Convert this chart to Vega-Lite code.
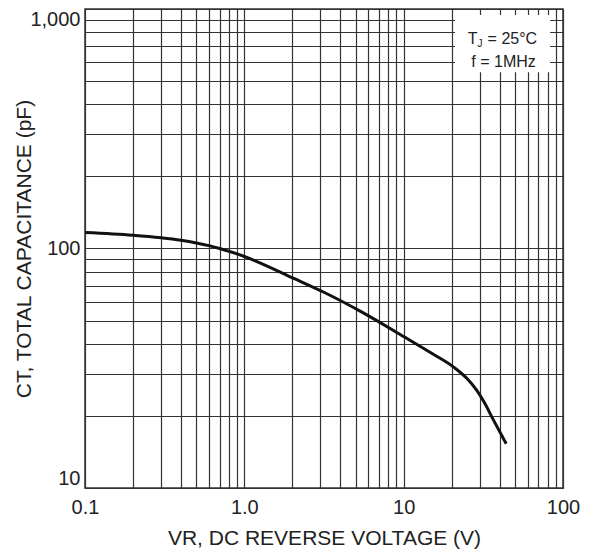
{
  "$schema": "https://vega.github.io/schema/vega-lite/v6.json",
  "width": 478,
  "height": 479,
  "autosize": {"type": "none"},
  "padding": {"left": 85, "top": 9, "right": 27, "bottom": 62},
  "background": "white",
  "config": {
    "font": "Liberation Sans",
    "view": {"stroke": "#333333", "strokeWidth": 1.5}
  },
  "encoding": {
    "x": {
      "field": "V",
      "type": "quantitative",
      "scale": {"type": "log", "domain": [0.1, 100], "nice": false},
      "axis": {
        "title": "VR, DC REVERSE VOLTAGE (V)",
        "values": [0.1, 0.2, 0.3, 0.4, 0.5, 0.6, 0.7, 0.8, 0.9, 1, 2, 3, 4, 5, 6, 7, 8, 9, 10, 20, 30, 40, 50, 60, 70, 80, 90, 100],
        "labelExpr": "datum.value == 0.1 ? '0.1' : datum.value == 1 ? '1.0' : datum.value == 10 ? '10' : datum.value == 100 ? '100' : ''",
        "grid": true,
        "gridColor": "#333333",
        "gridWidth": 1.2,
        "gridOpacity": 1,
        "ticks": false,
        "domain": false,
        "labelFontSize": 20,
        "labelColor": "#222222",
        "labelPadding": 9,
        "labelOverlap": false,
        "labelFlush": false,
        "titleFontSize": 21,
        "titleFontWeight": "normal",
        "titleColor": "#222222",
        "titleY": 56,
        "titleBaseline": "alphabetic"
      }
    },
    "y": {
      "field": "C",
      "type": "quantitative",
      "scale": {"type": "log", "domain": [10, 1000], "nice": false},
      "axis": {
        "title": "CT, TOTAL CAPACITANCE (pF)",
        "values": [10, 20, 30, 40, 50, 60, 70, 80, 90, 100, 200, 300, 400, 500, 600, 700, 800, 900, 1000],
        "labelExpr": "datum.value == 10 ? '10' : datum.value == 100 ? '100' : datum.value == 1000 ? '1,000' : ''",
        "grid": true,
        "gridColor": "#333333",
        "gridWidth": 1.2,
        "gridOpacity": 1,
        "ticks": false,
        "domain": false,
        "labelFontSize": 20,
        "labelColor": "#222222",
        "labelPadding": 5,
        "labelOverlap": false,
        "labelFlush": true,
        "labelFlushOffset": 0,
        "titleFontSize": 21,
        "titleFontWeight": "normal",
        "titleColor": "#222222",
        "titleX": -55,
        "titleBaseline": "alphabetic"
      }
    }
  },
  "layer": [
    {
      "data": {"values": [{"V": 21, "V2": 83, "C": 545, "C2": 944}]},
      "mark": {"type": "rect", "fill": "white", "stroke": null},
      "encoding": {
        "x2": {"field": "V2"},
        "y2": {"field": "C2"}
      }
    },
    {
      "data": {"values": [
        {"V": 0.1, "C": 116.5},
        {"V": 0.2, "C": 113.5},
        {"V": 0.3, "C": 110.8},
        {"V": 0.4, "C": 108.2},
        {"V": 0.5, "C": 105.5},
        {"V": 0.6, "C": 102.8},
        {"V": 0.7, "C": 100.0},
        {"V": 0.8, "C": 97.4},
        {"V": 1.0, "C": 92.6},
        {"V": 2.08, "C": 74.6},
        {"V": 3.18, "C": 65.5},
        {"V": 5.4, "C": 54.5},
        {"V": 10.05, "C": 42.8},
        {"V": 15, "C": 36.5},
        {"V": 20.7, "C": 31.9},
        {"V": 24.9, "C": 28.7},
        {"V": 28.7, "C": 25.6},
        {"V": 31.9, "C": 22.9},
        {"V": 36.5, "C": 19.3},
        {"V": 44, "C": 15.3}
      ]},
      "mark": {"type": "line", "color": "#111111", "strokeWidth": 3, "interpolate": "monotone"}
    },
    {
      "data": {"values": [{"V": 40, "C": 750, "label": "T"}]},
      "mark": {"type": "text", "align": "right", "baseline": "middle", "dx": -22, "fontSize": 16, "color": "#222222"},
      "encoding": {"text": {"field": "label"}}
    },
    {
      "data": {"values": [{"V": 40, "C": 750, "label": "J"}]},
      "mark": {"type": "text", "align": "left", "baseline": "middle", "dx": -22, "dy": 5, "fontSize": 10, "color": "#222222"},
      "encoding": {"text": {"field": "label"}}
    },
    {
      "data": {"values": [{"V": 40, "C": 750, "label": "= 25°C"}]},
      "mark": {"type": "text", "align": "left", "baseline": "middle", "dx": -12, "fontSize": 16, "color": "#222222"},
      "encoding": {"text": {"field": "label"}}
    },
    {
      "data": {"values": [{"V": 40, "C": 600, "label": "f = 1MHz"}]},
      "mark": {"type": "text", "align": "center", "baseline": "middle", "dx": 4, "fontSize": 16, "color": "#222222"},
      "encoding": {"text": {"field": "label"}}
    }
  ]
}
